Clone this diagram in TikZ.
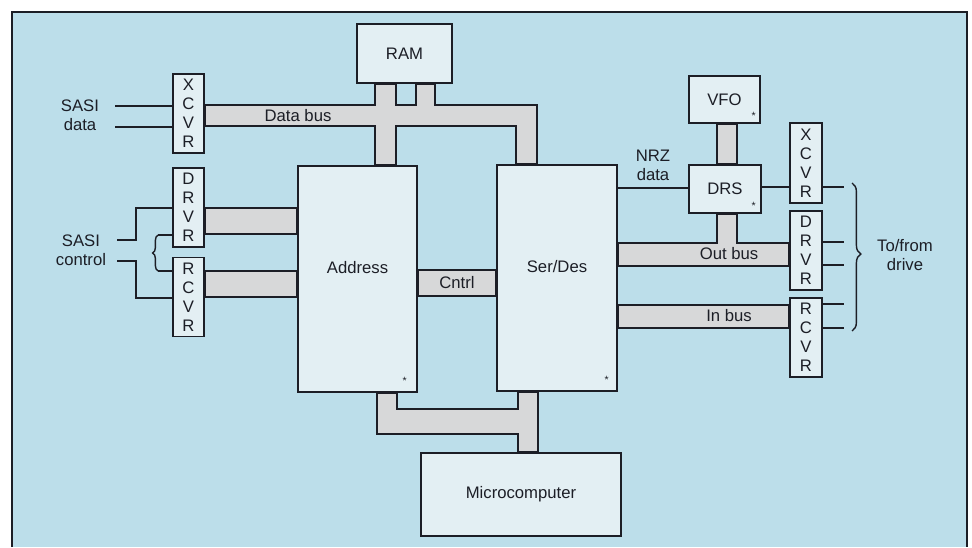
\documentclass[tikz,border=0pt]{standalone}
\usepackage{fontspec}
\setmainfont{Liberation Sans}
\usetikzlibrary{decorations.pathreplacing}
\pgfdeclarelayer{back}
\pgfdeclarelayer{buses}
\pgfsetlayers{back,buses,main}
\definecolor{panel}{RGB}{188,222,234}
\definecolor{boxfill}{RGB}{227,239,243}
\definecolor{busfill}{RGB}{215,216,217}
\definecolor{ink}{RGB}{28,30,38}

\begin{document}
\begin{tikzpicture}[
    x=0.02cm, y=-0.02cm,
    every node/.style={font=\fontsize{9.5}{10.8}\selectfont, text=ink},
    block/.style={
        draw=ink,
        fill=boxfill,
        line width=0.9pt,
        inner sep=0pt
    },
    stackbox/.style={block, align=center, minimum width=0.62cm, minimum height=1.58cm},
    starmark/.style={font=\fontsize{6}{6}\selectfont, inner sep=0pt},
    bus/.style={draw=ink, fill=busfill, line width=0.9pt},
    wire/.style={draw=ink, line width=0.8pt}
]
\useasboundingbox (0,0) rectangle (972,547);

% --- Boxes
\node[block, minimum width=1.9cm, minimum height=1.18cm] (ram) at (404.5,53.5) {RAM};
\node[stackbox] (xcvrA) at (188.5,113.5) {X\\C\\V\\R};
\node[stackbox] (drvrA) at (188.5,207.5) {D\\R\\V\\R};
\node[stackbox] (rcvrA) at (188.5,297) {R\\C\\V\\R};

\node[block, minimum width=2.38cm, minimum height=4.52cm] (addr) at (357.5,279) {};
\node[block, minimum width=2.4cm, minimum height=4.52cm] (serdes) at (557,278) {};
\node[block, minimum width=4cm, minimum height=1.66cm] (micro) at (521,494.5) {Microcomputer};

\node[block, minimum width=1.42cm, minimum height=0.94cm] (vfo) at (724.5,99.5) {VFO};
\node[block, minimum width=1.44cm, minimum height=0.96cm] (drs) at (725,189) {DRS};
\node[stackbox, minimum width=0.64cm, minimum height=1.6cm] (xcvrB) at (806,163) {X\\C\\V\\R};
\node[stackbox, minimum width=0.64cm] (drvrB) at (806,250.5) {D\\R\\V\\R};
\node[stackbox, minimum width=0.64cm] (rcvrB) at (806,337.5) {R\\C\\V\\R};

% --- Texts inside the big boxes
\node (addrlbl) at ([yshift=0.22cm]addr.center) {Address};
\node (serdeslbl) at ([yshift=0.22cm]serdes.center) {Ser/Des};
\node[starmark] (addrstar) at ([xshift=-0.26cm, yshift=0.24cm]addr.south east) {*};
\node[starmark] (serdesstar) at ([xshift=-0.22cm, yshift=0.24cm]serdes.south east) {*};
\node[starmark] (vfostar) at ([xshift=-0.14cm, yshift=0.16cm]vfo.south east) {*};
\node[starmark] (drsstar) at ([xshift=-0.16cm, yshift=0.16cm]drs.south east) {*};

% --- Outside labels
\node[align=center] (sasiD) at (80,115) {SASI\\data};
\node[align=center] (sasiC) at (81,250) {SASI\\control};
\node[align=center] (nrz) at (653,165) {NRZ\\data};
\node[align=center] (drive) at (905,255) {To/from\\drive};

\coordinate (sdA) at (115,106);
\coordinate (sdB) at (115,127);
\coordinate (scA) at (117,240);
\coordinate (scB) at (117,261);

% --- Buses (behind the boxes)
\begin{pgfonlayer}{buses}
\filldraw[bus] (xcvrA.east |- 0,105) -- (375,105) -- (375,0 |- ram.south)
    -- (396,0 |- ram.south) -- (396,105) -- (416,105) -- (416,0 |- ram.south)
    -- (435,0 |- ram.south) -- (435,105) -- (537,105) -- (537,0 |- serdes.north)
    -- (516,0 |- serdes.north) -- (516,126) -- (396,126) -- (396,0 |- addr.north)
    -- (375,0 |- addr.north) -- (375,126) -- (xcvrA.east |- 0,126) -- cycle;
\filldraw[bus] (drvrA.east |- 0,208) rectangle (addr.west |- 0,234);
\filldraw[bus] (rcvrA.east |- 0,271) rectangle (addr.west |- 0,297);
\filldraw[bus] (addr.east |- 0,270) rectangle (serdes.west |- 0,296);
\filldraw[bus] (717,0 |- vfo.south) rectangle (737,0 |- drs.north);
\filldraw[bus] (serdes.east |- 0,243) -- (717,243) -- (717,0 |- drs.south)
    -- (737,0 |- drs.south) -- (737,243) -- (drvrB.west |- 0,243)
    -- (drvrB.west |- 0,266) -- (serdes.east |- 0,266) -- cycle;
\filldraw[bus] (serdes.east |- 0,305) rectangle (rcvrB.west |- 0,328);
\filldraw[bus] (377,0 |- addr.south) -- (377,434) -- (518,434) -- (518,0 |- micro.north)
    -- (538,0 |- micro.north) -- (538,0 |- serdes.south) -- (518,0 |- serdes.south)
    -- (518,409) -- (397,409) -- (397,0 |- addr.south) -- cycle;
\end{pgfonlayer}

\node (databus) at (298,116) {Data bus};
\node (cntrl) at (457,283) {Cntrl};
\node (outbus) at (729,254) {Out bus};
\node (inbus) at (729,316) {In bus};

% --- Single lines
\draw[wire] (sdA) -- (xcvrA.west |- sdA);
\draw[wire] (sdB) -- (xcvrA.west |- sdB);
\draw[wire] (scA) -- ++(19,0) |- (drvrA.west |- 0,208);
\draw[wire] (scB) -- ++(19,0) |- (rcvrA.west |- 0,298);
\draw[wire] (drvrA.west |- 0,235) -- (158,235);
\draw[wire] (rcvrA.west |- 0,271) -- (158,271);
\draw[wire, decorate, decoration={brace, amplitude=3pt}] (158,271) -- (158,235);

\draw[wire] (serdes.east |- 0,188) -- (drs.west |- 0,188);
\draw[wire] (drs.east |- 0,187) -- (xcvrB.west |- 0,187);
\draw[wire] (xcvrB.east |- 0,187) -- ++(21,0);
\draw[wire] (drvrB.east |- 0,242) -- ++(21,0);
\draw[wire] (drvrB.east |- 0,265) -- ++(21,0);
\draw[wire] (rcvrB.east |- 0,304) -- ++(21,0);
\draw[wire] (rcvrB.east |- 0,328) -- ++(21,0);
\draw[wire, decorate, decoration={brace, amplitude=5pt, aspect=0.48}] (852,183) -- (852,331);

% --- Panel
\begin{pgfonlayer}{back}
\fill[white] (0,0) rectangle (972,547);
\fill[panel] (12,12) rectangle (967,547);
\draw[ink, line width=1pt] (12,547) -- (12,12) -- (967,12) -- (967,547);
\end{pgfonlayer}

\end{tikzpicture}
\end{document}
